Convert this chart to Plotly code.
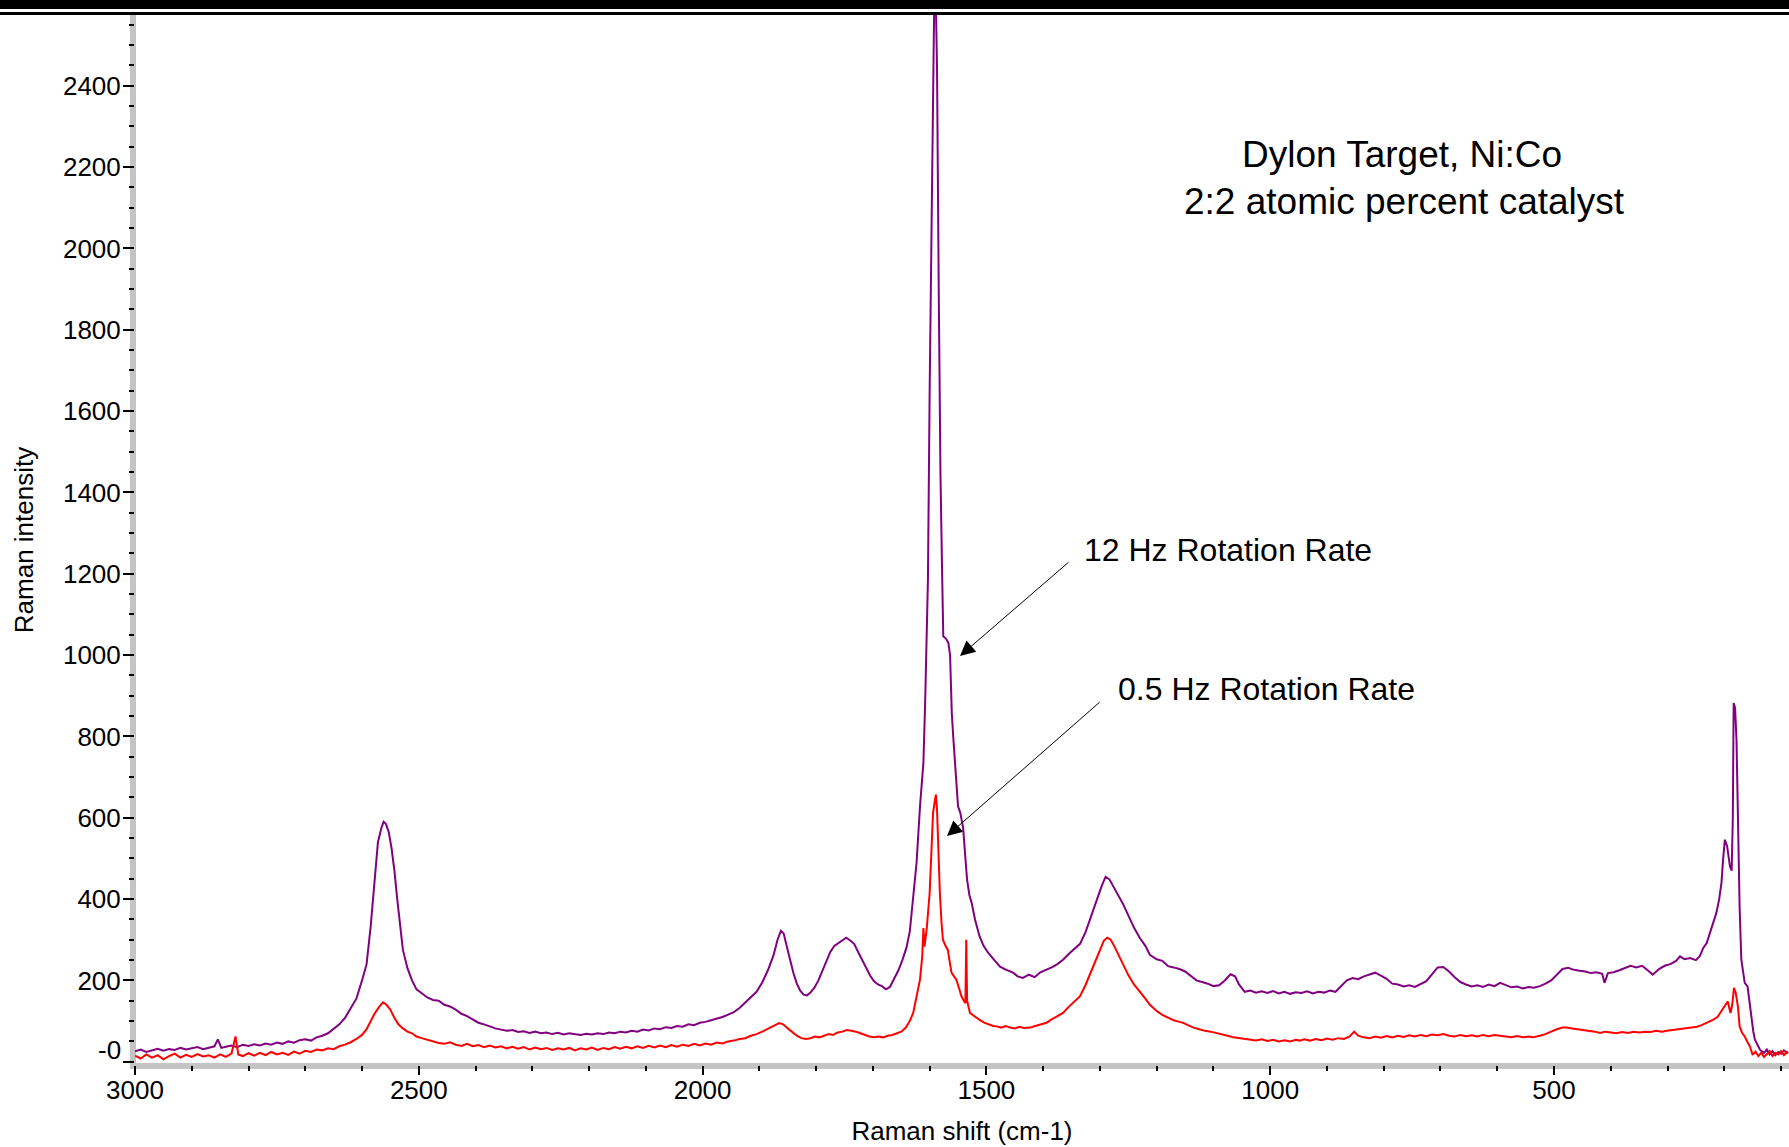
import plotly.graph_objects as go

FONT = "Liberation Sans, Arial, sans-serif"

# ---- data: (Raman shift cm-1, intensity) ----
spec_12hz = [
    (3000, 26), (2990, 30), (2980, 24), (2970, 28), (2960, 32), (2950, 27), (2940, 31), (2930, 29),
    (2920, 34), (2910, 30), (2900, 33), (2890, 36), (2880, 31), (2870, 35), (2860, 38), (2854, 55),
    (2848, 34), (2840, 37), (2830, 40), (2820, 36), (2810, 42), (2800, 39), (2790, 43), (2780, 40),
    (2770, 45), (2760, 42), (2750, 47), (2740, 44), (2730, 50), (2720, 47), (2710, 53), (2700, 55),
    (2690, 52), (2680, 60), (2670, 64), (2660, 70), (2650, 80), (2640, 92), (2630, 108), (2620, 130),
    (2610, 155), (2600, 200), (2592, 240), (2585, 330), (2578, 450), (2572, 540), (2566, 575),
    (2562, 590), (2558, 585), (2553, 565), (2548, 525), (2543, 470), (2538, 400), (2533, 330),
    (2528, 275), (2520, 230), (2512, 200), (2504, 178), (2495, 168), (2485, 158), (2475, 152),
    (2465, 150), (2455, 140), (2445, 136), (2435, 128), (2425, 118), (2415, 112), (2405, 104),
    (2395, 96), (2385, 92), (2375, 86), (2365, 82), (2355, 79), (2345, 76), (2335, 78), (2325, 73),
    (2315, 75), (2305, 71), (2295, 74), (2285, 70), (2275, 72), (2265, 68), (2255, 71), (2245, 67),
    (2235, 70), (2225, 68), (2215, 66), (2205, 69), (2195, 67), (2185, 70), (2175, 68), (2165, 72),
    (2155, 70), (2145, 74), (2135, 72), (2125, 76), (2115, 74), (2105, 79), (2095, 77), (2085, 82),
    (2075, 80), (2065, 85), (2055, 83), (2045, 88), (2035, 86), (2025, 92), (2015, 90), (2005, 96),
    (1995, 98), (1985, 102), (1975, 106), (1965, 110), (1955, 116), (1945, 122), (1935, 132),
    (1925, 145), (1915, 158), (1905, 172), (1895, 195), (1885, 225), (1875, 262), (1868, 300),
    (1862, 322), (1857, 315), (1852, 285), (1846, 250), (1840, 218), (1834, 192), (1828, 175),
    (1822, 165), (1816, 163), (1810, 170), (1803, 182), (1796, 200), (1789, 222), (1782, 248),
    (1775, 270), (1768, 285), (1761, 292), (1754, 300), (1747, 305), (1740, 298), (1733, 290),
    (1726, 270), (1719, 250), (1712, 230), (1705, 212), (1698, 198), (1691, 190), (1684, 186),
    (1677, 178), (1670, 184), (1662, 205), (1655, 225), (1648, 250), (1641, 280), (1635, 320),
    (1629, 405), (1623, 490), (1617, 628), (1611, 735), (1608, 880), (1605, 1080), (1603, 1185),
    (1600, 1650), (1597, 2000), (1594.5, 2297), (1592, 2600), (1589, 2600), (1587, 2444),
    (1584, 1900), (1581, 1450), (1578, 1200), (1576, 1046), (1571, 1040), (1567, 1030),
    (1564, 1000), (1561, 858), (1558, 790), (1555, 735), (1550, 628), (1546, 612), (1541, 575),
    (1537, 500), (1534, 447), (1530, 410), (1526, 391), (1520, 349), (1512, 308), (1505, 285),
    (1497, 268), (1486, 250), (1476, 234), (1465, 226), (1453, 219), (1445, 210), (1436, 206),
    (1425, 214), (1415, 208), (1405, 220), (1394, 226), (1385, 232), (1375, 240), (1365, 251),
    (1355, 265), (1345, 278), (1335, 290), (1325, 320), (1315, 360), (1305, 405), (1297, 432),
    (1290, 455), (1283, 448), (1276, 430), (1268, 410), (1260, 390), (1250, 360), (1240, 330),
    (1230, 305), (1220, 285), (1212, 263), (1200, 252), (1190, 248), (1180, 235), (1170, 232),
    (1160, 228), (1150, 222), (1140, 210), (1130, 200), (1120, 196), (1110, 192), (1100, 186),
    (1090, 188), (1080, 200), (1070, 215), (1062, 210), (1055, 190), (1045, 172), (1035, 175),
    (1025, 170), (1015, 173), (1005, 169), (995, 174), (985, 168), (975, 172), (965, 167),
    (955, 171), (945, 169), (935, 173), (925, 168), (915, 172), (905, 170), (895, 175), (885, 172),
    (875, 185), (865, 200), (855, 206), (845, 203), (835, 210), (825, 214), (815, 219), (805, 212),
    (795, 204), (785, 192), (775, 190), (765, 185), (755, 188), (745, 184), (735, 190), (725, 198),
    (715, 215), (705, 232), (695, 233), (685, 222), (675, 208), (665, 196), (655, 190), (645, 185),
    (635, 188), (625, 184), (615, 190), (605, 186), (595, 194), (585, 188), (575, 183), (565, 185),
    (555, 180), (545, 184), (535, 182), (525, 186), (515, 192), (505, 200), (495, 215), (485, 228),
    (475, 231), (465, 226), (455, 224), (445, 222), (435, 218), (425, 220), (415, 216), (411, 194),
    (405, 218), (395, 220), (385, 225), (375, 230), (365, 236), (355, 232), (345, 236), (335, 225),
    (326, 214), (315, 228), (305, 236), (295, 240), (285, 248), (278, 259), (270, 252), (260, 255),
    (250, 250), (243, 260), (237, 280), (231, 292), (225, 320), (219, 345), (214, 366), (209, 400),
    (205, 440), (202, 500), (199, 546), (195, 530), (190, 480), (187, 470), (185, 600), (183.5, 882),
    (181, 870), (178.5, 792), (176, 554), (173, 380), (170, 251), (167, 215), (164, 194), (159, 185),
    (155, 140), (152, 103), (149, 75), (146, 54), (141, 38), (137, 29), (130, 22), (125, 30),
    (120, 18), (115, 26), (110, 16), (105, 24), (100, 20), (95, 28), (90, 22), (88, 25),
]

spec_05hz = [
    (3000, 15), (2990, 8), (2980, 18), (2970, 10), (2960, 16), (2950, 6), (2940, 14), (2930, 20),
    (2920, 10), (2910, 17), (2900, 12), (2890, 19), (2880, 13), (2870, 16), (2860, 10), (2850, 18),
    (2840, 12), (2830, 20), (2823, 62), (2818, 18), (2810, 14), (2800, 21), (2790, 15), (2780, 22),
    (2770, 16), (2760, 24), (2750, 18), (2740, 22), (2730, 17), (2720, 25), (2710, 20), (2700, 27),
    (2690, 24), (2680, 30), (2670, 28), (2660, 33), (2650, 31), (2640, 38), (2630, 42), (2620, 48),
    (2610, 56), (2600, 66), (2592, 80), (2585, 100), (2578, 118), (2570, 135), (2563, 146),
    (2557, 140), (2550, 128), (2543, 108), (2536, 92), (2528, 82), (2520, 74), (2512, 70),
    (2504, 62), (2495, 58), (2485, 54), (2475, 50), (2465, 46), (2455, 44), (2445, 48), (2435, 42),
    (2425, 39), (2415, 44), (2405, 38), (2395, 41), (2385, 36), (2375, 40), (2365, 35), (2355, 38),
    (2345, 33), (2335, 37), (2325, 32), (2315, 36), (2305, 30), (2295, 35), (2285, 31), (2275, 34),
    (2265, 29), (2255, 33), (2245, 30), (2235, 34), (2225, 28), (2215, 33), (2205, 30), (2195, 35),
    (2185, 29), (2175, 34), (2165, 31), (2155, 36), (2145, 32), (2135, 37), (2125, 33), (2115, 38),
    (2105, 34), (2095, 39), (2085, 35), (2075, 40), (2065, 36), (2055, 41), (2045, 37), (2035, 42),
    (2025, 39), (2015, 44), (2005, 40), (1995, 45), (1985, 42), (1975, 47), (1965, 45), (1955, 50),
    (1945, 52), (1935, 56), (1925, 58), (1915, 64), (1905, 68), (1895, 74), (1885, 80), (1875, 88),
    (1865, 95), (1858, 92), (1850, 82), (1842, 72), (1834, 64), (1826, 58), (1818, 56), (1810, 58),
    (1802, 62), (1794, 60), (1786, 64), (1778, 68), (1770, 66), (1762, 72), (1754, 74), (1746, 78),
    (1738, 76), (1730, 74), (1722, 70), (1714, 66), (1706, 62), (1698, 60), (1690, 62), (1682, 60),
    (1674, 64), (1666, 66), (1658, 70), (1650, 74), (1642, 84), (1635, 100), (1629, 120),
    (1623, 160), (1617, 202), (1613, 260), (1611, 329), (1609, 283), (1605, 330), (1600, 415),
    (1597, 520), (1594, 612), (1591, 640), (1589, 657), (1587, 620), (1585.5, 546), (1582, 415),
    (1579, 340), (1576.6, 300), (1572, 285), (1568, 275), (1564, 240), (1561.5, 219), (1557, 210),
    (1553, 202), (1548, 180), (1544, 161), (1539, 148), (1537, 144), (1535.5, 300), (1534, 150),
    (1529, 120), (1520, 110), (1512, 103), (1504, 96), (1496, 92), (1488, 88), (1482, 87),
    (1474, 84), (1466, 88), (1458, 84), (1450, 82), (1442, 86), (1434, 83), (1423, 84), (1414, 88),
    (1404, 92), (1394, 96), (1385, 104), (1375, 112), (1365, 120), (1355, 135), (1345, 148),
    (1335, 161), (1325, 190), (1316, 220), (1308, 250), (1300, 278), (1293, 298), (1287, 305),
    (1281, 300), (1275, 285), (1268, 265), (1260, 240), (1250, 213), (1240, 190), (1230, 171),
    (1220, 155), (1212, 140), (1200, 125), (1190, 115), (1180, 108), (1170, 102), (1160, 98),
    (1154, 96), (1145, 90), (1135, 84), (1125, 80), (1115, 76), (1105, 74), (1094, 71), (1085, 68),
    (1075, 64), (1065, 60), (1055, 58), (1045, 55), (1036, 54), (1025, 52), (1015, 55), (1005, 51),
    (995, 54), (985, 50), (975, 53), (965, 50), (955, 54), (948, 52), (940, 55), (930, 52), (920, 56),
    (910, 53), (900, 57), (890, 54), (880, 58), (870, 56), (860, 62), (852, 74), (845, 64), (835, 60),
    (825, 58), (815, 62), (805, 59), (795, 63), (785, 60), (775, 64), (765, 61), (755, 65), (745, 62),
    (735, 66), (725, 63), (715, 67), (705, 65), (695, 68), (685, 64), (675, 62), (665, 66), (655, 63),
    (645, 65), (635, 62), (625, 66), (615, 63), (605, 66), (596, 64), (585, 62), (575, 60), (565, 63),
    (555, 60), (545, 62), (537, 60), (525, 64), (515, 68), (505, 74), (495, 80), (485, 84), (478, 84),
    (468, 82), (458, 80), (448, 79), (438, 76), (428, 74), (419, 71), (410, 74), (400, 72), (390, 70),
    (380, 73), (370, 71), (360, 74), (349, 72), (340, 74), (330, 73), (320, 76), (310, 74), (301, 76),
    (290, 78), (278, 80), (268, 82), (258, 84), (248, 86), (240, 90), (230, 96), (220, 103),
    (212, 110), (203, 128), (197, 140), (194, 148), (189, 120), (186, 140), (183, 182), (180, 170),
    (176, 136), (173, 87), (169, 72), (164, 62), (159, 48), (155, 38), (150, 17), (145, 25), (140, 14),
    (135, 22), (130, 12), (125, 20), (120, 26), (115, 14), (110, 22), (105, 18), (100, 26), (95, 16),
    (90, 24), (88, 20),
]

x_tick_vals = [3000, 2500, 2000, 1500, 1000, 500]
x_tick_text = ["3000", "2500", "2000", "1500", "1000", "500"]
y_tick_vals = [0, 200, 400, 600, 800, 1000, 1200, 1400, 1600, 1800, 2000, 2200, 2400]
# the zero label ("-0") is drawn slightly above its tick in the original, added separately
y_tick_text = ["", "200", "400", "600", "800", "1000", "1200", "1400", "1600",
               "1800", "2000", "2200", "2400"]
zero_label = "-0"

label_12hz = "12 Hz Rotation Rate"
label_05hz = "0.5 Hz Rotation Rate"
title_line1 = "Dylon Target, Ni:Co"
title_line2 = "2:2 atomic percent catalyst"

# ---- layout geometry (pixels) ----
W, H = 1789, 1147
ML, MR, MT, MB = 135, 0, 15, 82
PW = W - ML - MR
PH = H - MT - MB


def px(xp):
    return (xp - ML) / PW


def py(yp):
    return (H - MB - yp) / PH


fig = go.Figure()
fig.add_trace(go.Scatter(
    x=[p[0] for p in spec_12hz], y=[p[1] for p in spec_12hz],
    mode="lines", line=dict(color="#800080", width=2), name=label_12hz,
))
fig.add_trace(go.Scatter(
    x=[p[0] for p in spec_05hz], y=[p[1] for p in spec_05hz],
    mode="lines", line=dict(color="#ff0000", width=2), name=label_05hz,
))

axis_common = dict(
    showgrid=False, zeroline=False, showline=False,
    ticks="outside", tickwidth=2, tickcolor="black",
    tickfont=dict(family=FONT, size=26, color="black"),
    automargin=False,
)

fig.update_layout(
    width=W, height=H,
    margin=dict(l=ML, r=MR, t=MT, b=MB, pad=0),
    paper_bgcolor="white", plot_bgcolor="rgba(0,0,0,0)",
    font=dict(family=FONT, size=26, color="black"),
    showlegend=False,
    xaxis=dict(
        range=[3000, 86], tickmode="array", tickvals=x_tick_vals, ticktext=x_tick_text,
        ticklen=9, ticklabelstandoff=-7,
        minor=dict(tickmode="linear", tick0=0, dtick=100, ticks="outside", ticklen=5,
                   tickwidth=2, tickcolor="black", showgrid=False),
        title=dict(text="Raman shift (cm-1)", font=dict(family=FONT, size=26), standoff=17),
        **axis_common,
    ),
    yaxis=dict(
        range=[-8, 2574], tickmode="array", tickvals=y_tick_vals, ticktext=y_tick_text,
        ticklen=11, ticklabelstandoff=-3,
        minor=dict(tickmode="linear", tick0=0, dtick=50, ticks="outside", ticklen=5,
                   tickwidth=2, tickcolor="black", showgrid=False),
        title=dict(text="Raman intensity", font=dict(family=FONT, size=26), standoff=21),
        **axis_common,
    ),
)

# grey axis bars
fig.add_shape(type="rect", xref="paper", yref="paper", x0=px(130), x1=px(136), y0=py(1069), y1=py(12),
              line=dict(width=0), fillcolor="#c4c4c4", layer="below")
fig.add_shape(type="rect", xref="paper", yref="paper", x0=px(130), x1=px(W), y0=py(1069), y1=py(1063),
              line=dict(width=0), fillcolor="#c4c4c4", layer="below")

# top border bars
fig.add_shape(type="rect", xref="paper", yref="paper", x0=px(0), x1=px(W), y0=py(15), y1=py(12),
              line=dict(width=0), fillcolor="black", layer="above")
fig.add_shape(type="rect", xref="paper", yref="paper", x0=px(0), x1=px(W), y0=py(9), y1=py(-2),
              line=dict(width=0), fillcolor="black", layer="above")

# zero tick label
fig.add_annotation(xref="paper", yref="paper", x=px(123), y=py(1050), text=zero_label,
                   showarrow=False, xanchor="right", yanchor="middle",
                   font=dict(family=FONT, size=26, color="black"))

# text
fig.add_annotation(xref="paper", yref="paper", x=px(1402), y=py(155), text=title_line1,
                   showarrow=False, xanchor="center", yanchor="middle",
                   font=dict(family=FONT, size=37, color="black"))
fig.add_annotation(xref="paper", yref="paper", x=px(1404), y=py(201), text=title_line2,
                   showarrow=False, xanchor="center", yanchor="middle",
                   font=dict(family=FONT, size=37, color="black"))
fig.add_annotation(xref="paper", yref="paper", x=px(1082), y=py(550), text=label_12hz,
                   showarrow=False, xanchor="left", yanchor="middle",
                   font=dict(family=FONT, size=32, color="black"))
fig.add_annotation(xref="paper", yref="paper", x=px(1116), y=py(689), text=label_05hz,
                   showarrow=False, xanchor="left", yanchor="middle",
                   font=dict(family=FONT, size=32, color="black"))

# arrows
fig.add_annotation(xref="paper", yref="paper", x=px(960), y=py(656), ax=110, ay=-95,
                   text="", showarrow=True, arrowhead=2, arrowsize=3, arrowwidth=1,
                   arrowcolor="black")
fig.add_annotation(xref="paper", yref="paper", x=px(947), y=py(836), ax=154, ay=-135,
                   text="", showarrow=True, arrowhead=2, arrowsize=3, arrowwidth=1,
                   arrowcolor="black")

fig.write_html("out.html", config={"displayModeBar": False},
               post_script="document.body.style.margin='0';")
